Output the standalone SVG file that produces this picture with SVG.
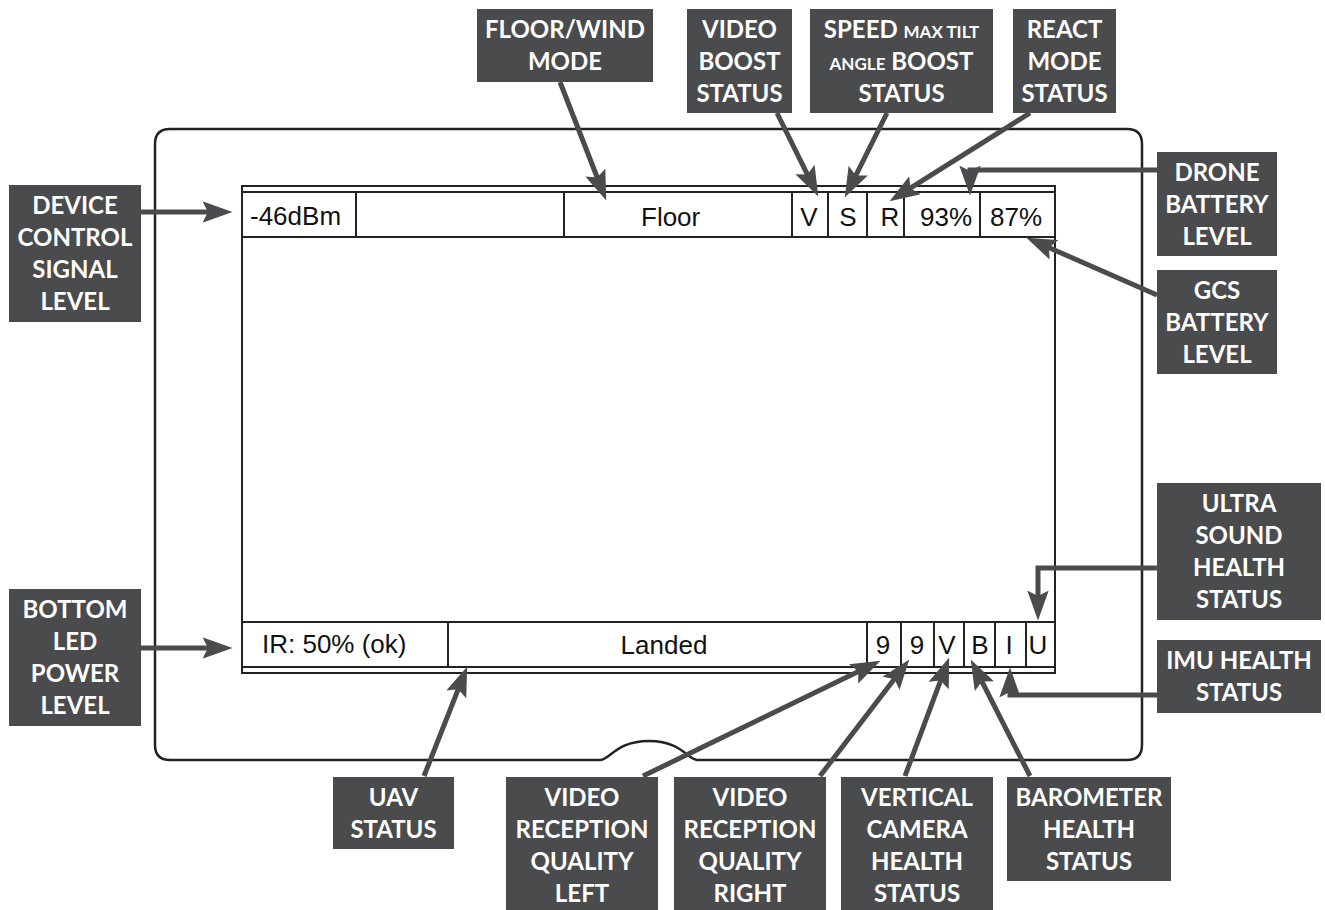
<svg xmlns="http://www.w3.org/2000/svg" width="1325" height="910" viewBox="0 0 1325 910">
<style>
.dev{fill:#fff;stroke:#222;stroke-width:2.5}
.scr{fill:none;stroke:#222;stroke-width:2}
.cell{font-family:"Liberation Sans",Arial,sans-serif;font-size:26px;fill:#111}
.box{fill:#4a4b4d}
.lbl{font-family:Lato,"Open Sans",sans-serif;font-weight:700;font-size:24px;fill:#fff;text-anchor:middle}
.sm{font-size:17px}
.con{fill:none;stroke:#4a4b4d;stroke-width:5;marker-end:url(#ah)}
</style>
<defs>
<marker id="ah" markerUnits="userSpaceOnUse" markerWidth="30" markerHeight="22" viewBox="0 0 28 20" refX="20" refY="10" orient="auto">
<path d="M0,0 L28,10 L0,20 L5,10 z" fill="#4a4b4d"/>
</marker>
</defs>
<rect width="1325" height="910" fill="#fff"/>
<g id="device">
<path class="dev" d="M170,129 H1127 Q1142,129 1142,144 V745 Q1142,760 1127,760 H697 C688,760 682,741 649,741 C616,741 610,760 600,760 H170 Q155,760 155,745 V144 Q155,129 170,129 Z"/>
</g>
<g id="screen">
<rect x="242" y="186" width="813" height="487" fill="#fff" stroke="#222" stroke-width="2"/>
<path class="scr" d="M242,192 H1055 M242,237 H1055 M356,192 V237 M564,192 V237 M792,192 V237 M828,192 V237 M867,192 V237 M904,192 V237 M980,192 V237"/>
<path class="scr" d="M242,622 H1055 M242,667 H1055 M448,622 V667 M867,622 V667 M901,622 V667 M934,622 V667 M964,622 V667 M995,622 V667 M1026,622 V667"/>
<text class="cell" x="250" y="225">-46dBm</text>
<text class="cell" x="641" y="226">Floor</text>
<text class="cell" x="809" y="226" text-anchor="middle">V</text>
<text class="cell" x="848" y="226" text-anchor="middle">S</text>
<text class="cell" x="890" y="226" text-anchor="middle">R</text>
<text class="cell" x="946" y="226" text-anchor="middle">93%</text>
<text class="cell" x="1016" y="226" text-anchor="middle">87%</text>
<text class="cell" x="262" y="653">IR: 50% (ok)</text>
<text class="cell" x="664" y="654" text-anchor="middle">Landed</text>
<text class="cell" x="883" y="654" text-anchor="middle">9</text>
<text class="cell" x="917" y="654" text-anchor="middle">9</text>
<text class="cell" x="947" y="654" text-anchor="middle">V</text>
<text class="cell" x="980" y="654" text-anchor="middle">B</text>
<text class="cell" x="1009" y="654" text-anchor="middle">I</text>
<text class="cell" x="1038" y="654" text-anchor="middle">U</text>
</g>
<g id="connectors">
<path class="con" d="M141,212 L224,212"/>
<path class="con" d="M141,648 L224,648"/>
<path class="con" d="M560,82 L603.1,192.5"/>
<path class="con" d="M777,113 L814.5,188.8"/>
<path class="con" d="M887,113 L848.6,189.8"/>
<path class="con" d="M1030,113 L896.8,196.7"/>
<path class="con" d="M1157,170 H970 V187"/>
<path class="con" d="M1157,295 L1034.3,241.2"/>
<path class="con" d="M1157,568 H1038 V612"/>
<path class="con" d="M1157,695 H1010 V676"/>
<path class="con" d="M424,776 L464.1,674.4"/>
<path class="con" d="M643,776 L872.8,664.5"/>
<path class="con" d="M820,776 L904.1,666.3"/>
<path class="con" d="M905,776 L946.2,665.5"/>
<path class="con" d="M1030,776 L974.6,667.1"/>
</g>
<g id="floor-wind">
<rect class="box" x="477" y="9" width="176" height="73"/>
<text class="lbl" x="565" y="38">FLOOR/WIND</text>
<text class="lbl" x="565" y="70">MODE</text>
</g>
<g id="video-boost">
<rect class="box" x="687" y="9" width="105" height="104"/>
<text class="lbl" x="739.5" y="38">VIDEO</text>
<text class="lbl" x="739.5" y="70">BOOST</text>
<text class="lbl" x="739.5" y="102">STATUS</text>
</g>
<g id="speed-boost">
<rect class="box" x="810" y="9" width="183" height="104"/>
<text class="lbl" x="901.5" y="38">SPEED <tspan class="sm">MAX TILT</tspan></text>
<text class="lbl" x="901.5" y="70"><tspan class="sm">ANGLE</tspan> BOOST</text>
<text class="lbl" x="901.5" y="102">STATUS</text>
</g>
<g id="react-mode">
<rect class="box" x="1013" y="9" width="103" height="104"/>
<text class="lbl" x="1064.5" y="38">REACT</text>
<text class="lbl" x="1064.5" y="70">MODE</text>
<text class="lbl" x="1064.5" y="102">STATUS</text>
</g>
<g id="drone-battery">
<rect class="box" x="1157" y="152" width="120" height="104"/>
<text class="lbl" x="1217" y="181">DRONE</text>
<text class="lbl" x="1217" y="213">BATTERY</text>
<text class="lbl" x="1217" y="245">LEVEL</text>
</g>
<g id="gcs-battery">
<rect class="box" x="1157" y="270" width="120" height="104"/>
<text class="lbl" x="1217" y="299">GCS</text>
<text class="lbl" x="1217" y="331">BATTERY</text>
<text class="lbl" x="1217" y="363">LEVEL</text>
</g>
<g id="device-signal">
<rect class="box" x="9" y="185" width="132" height="137"/>
<text class="lbl" x="75" y="214">DEVICE</text>
<text class="lbl" x="75" y="246">CONTROL</text>
<text class="lbl" x="75" y="278">SIGNAL</text>
<text class="lbl" x="75" y="310">LEVEL</text>
</g>
<g id="bottom-led">
<rect class="box" x="9" y="589" width="132" height="137"/>
<text class="lbl" x="75" y="618">BOTTOM</text>
<text class="lbl" x="75" y="650">LED</text>
<text class="lbl" x="75" y="682">POWER</text>
<text class="lbl" x="75" y="714">LEVEL</text>
</g>
<g id="ultrasound">
<rect class="box" x="1157" y="483" width="164" height="137"/>
<text class="lbl" x="1239" y="512">ULTRA</text>
<text class="lbl" x="1239" y="544">SOUND</text>
<text class="lbl" x="1239" y="576">HEALTH</text>
<text class="lbl" x="1239" y="608">STATUS</text>
</g>
<g id="imu">
<rect class="box" x="1157" y="640" width="164" height="73"/>
<text class="lbl" x="1239" y="669">IMU HEALTH</text>
<text class="lbl" x="1239" y="701">STATUS</text>
</g>
<g id="uav-status">
<rect class="box" x="333" y="777" width="121" height="72"/>
<text class="lbl" x="393.5" y="806">UAV</text>
<text class="lbl" x="393.5" y="838">STATUS</text>
</g>
<g id="vrq-left">
<rect class="box" x="506" y="777" width="152" height="140"/>
<text class="lbl" x="582" y="806">VIDEO</text>
<text class="lbl" x="582" y="838">RECEPTION</text>
<text class="lbl" x="582" y="870">QUALITY</text>
<text class="lbl" x="582" y="902">LEFT</text>
</g>
<g id="vrq-right">
<rect class="box" x="674" y="777" width="152" height="140"/>
<text class="lbl" x="750" y="806">VIDEO</text>
<text class="lbl" x="750" y="838">RECEPTION</text>
<text class="lbl" x="750" y="870">QUALITY</text>
<text class="lbl" x="750" y="902">RIGHT</text>
</g>
<g id="vertical-camera">
<rect class="box" x="841" y="777" width="152" height="140"/>
<text class="lbl" x="917" y="806">VERTICAL</text>
<text class="lbl" x="917" y="838">CAMERA</text>
<text class="lbl" x="917" y="870">HEALTH</text>
<text class="lbl" x="917" y="902">STATUS</text>
</g>
<g id="barometer">
<rect class="box" x="1007" y="777" width="164" height="104"/>
<text class="lbl" x="1089" y="806">BAROMETER</text>
<text class="lbl" x="1089" y="838">HEALTH</text>
<text class="lbl" x="1089" y="870">STATUS</text>
</g>
</svg>
